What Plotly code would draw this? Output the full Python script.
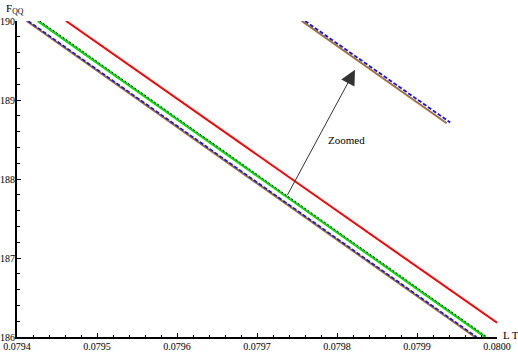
import plotly.graph_objects as go

# Main curves: endpoints (L T, F_QQ)
brown_x = [0.079412, 0.0799725]
brown_y = [190.0, 186.0]
blue_x = [0.079414, 0.0799745]
blue_y = [190.0, 186.0]
green_x = [0.079426, 0.079985]
green_y = [190.0, 186.0]
black_x = [0.0794285, 0.0799875]
black_y = [190.0, 186.0]
red_x = [0.0794613, 0.0800]
red_y = [190.0, 186.18]

# Zoomed inset curves
zbrown_x = [0.0797559, 0.0799371]
zbrown_y = [190.0, 188.705]
zblue_x = [0.0797600, 0.0799415]
zblue_y = [190.0, 188.715]

x_ticks = [0.0794, 0.0795, 0.0796, 0.0797, 0.0798, 0.0799, 0.0800]
x_tick_text = ["0.0794", "0.0795", "0.0796", "0.0797", "0.0798", "0.0799", "0.0800"]
y_ticks = [186, 187, 188, 189, 190]

FONT = "Liberation Serif"

fig = go.Figure()
fig.add_trace(go.Scatter(x=brown_x, y=brown_y, mode="lines",
                         line=dict(color="#a0703c", width=2)))
fig.add_trace(go.Scatter(x=blue_x, y=blue_y, mode="lines",
                         line=dict(color="#1010ff", width=1.6, dash="4px,2px")))
fig.add_trace(go.Scatter(x=green_x, y=green_y, mode="lines",
                         line=dict(color="#00dd00", width=2.2)))
fig.add_trace(go.Scatter(x=black_x, y=black_y, mode="lines",
                         line=dict(color="#000000", width=1, dash="2px,2px")))
fig.add_trace(go.Scatter(x=red_x, y=red_y, mode="lines",
                         line=dict(color="#ff0000", width=2)))
fig.add_trace(go.Scatter(x=zbrown_x, y=zbrown_y, mode="lines",
                         line=dict(color="#a0703c", width=2)))
fig.add_trace(go.Scatter(x=zblue_x, y=zblue_y, mode="lines",
                         line=dict(color="#1010ff", width=1.8, dash="4px,2px")))

fig.update_layout(
    width=518, height=354,
    margin=dict(l=17, r=21, t=21, b=17),
    paper_bgcolor="white", plot_bgcolor="white",
    showlegend=False,
    font=dict(family=FONT, size=10, color="black"),
)
fig.update_xaxes(
    range=[0.0794, 0.0800], showgrid=False, zeroline=False,
    showline=True, linecolor="black", linewidth=2,
    tickvals=x_ticks, ticktext=x_tick_text,
    ticks="inside", ticklen=4, tickwidth=1, tickcolor="black",
    minor=dict(tick0=0.0794, dtick=0.00002, ticks="inside", ticklen=2.5,
               tickwidth=1, tickcolor="black", showgrid=False),
    tickfont=dict(family=FONT, size=10),
    ticklabelstandoff=-1,
    automargin=False, fixedrange=True,
)
fig.update_yaxes(
    range=[186, 190], showgrid=False, zeroline=False,
    showline=True, linecolor="black", linewidth=2,
    tickvals=y_ticks,
    ticks="inside", ticklen=4, tickwidth=1, tickcolor="black",
    minor=dict(tick0=186, dtick=0.2, ticks="inside", ticklen=2.5,
               tickwidth=1, tickcolor="black", showgrid=False),
    tickfont=dict(family=FONT, size=10),
    ticklabelstandoff=-2,
    automargin=False, fixedrange=True,
)

# Arrow and label
fig.add_annotation(x=0.0798225, y=189.383, ax=0.0797371, ay=187.78,
                   xref="x", yref="y", axref="x", ayref="y",
                   text="", showarrow=True, arrowhead=2, arrowsize=3,
                   arrowwidth=1, arrowcolor="#333333")
fig.add_annotation(x=0.0798121, y=188.50, xref="x", yref="y",
                   text="Zoomed", showarrow=False,
                   font=dict(family=FONT, size=11, color="black"))
# Axis labels
fig.add_annotation(x=0, y=1, xref="paper", yref="paper",
                   text="F<sub>QQ</sub>", showarrow=False,
                   xanchor="center", yanchor="bottom", xshift=-2, yshift=3,
                   font=dict(family=FONT, size=11, color="black"))
fig.add_annotation(x=1, y=0, xref="paper", yref="paper",
                   text="L T", showarrow=False,
                   xanchor="left", yanchor="middle", xshift=4, yshift=2,
                   font=dict(family=FONT, size=11, color="black"))

fig.write_html("out.html", config={"displayModeBar": False},
               post_script="document.body.style.margin='0';document.body.style.overflow='hidden';")
